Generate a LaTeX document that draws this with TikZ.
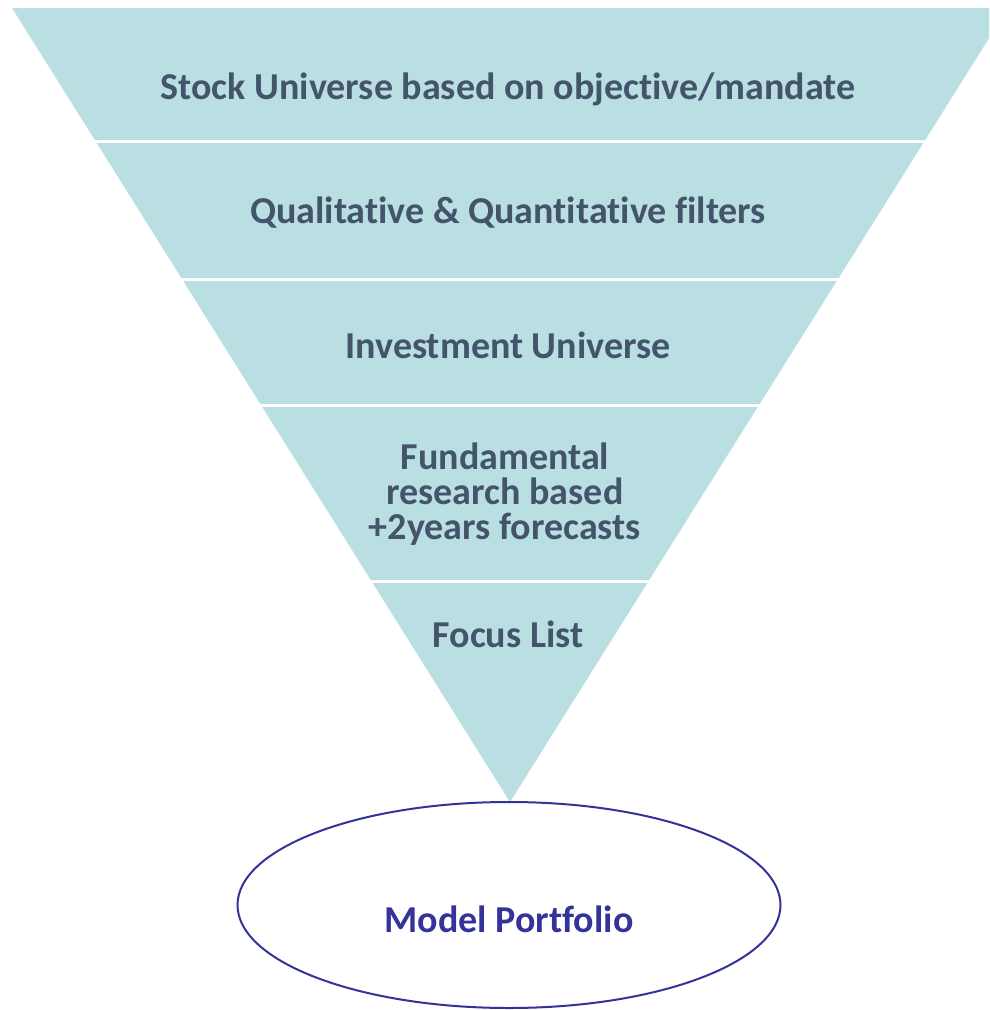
\documentclass[tikz,border=0pt]{standalone}
\usepackage{fontspec}
\setmainfont{Carlito}[Ligatures=NoCommon]
\usetikzlibrary{shapes.geometric}
\definecolor{funnelfill}{HTML}{B9DFE3}
\definecolor{slate}{HTML}{44546A}
\definecolor{navy}{HTML}{333399}
\begin{document}
\begin{tikzpicture}[x=1pt, y=-1pt,
	stage/.style={text=slate, font=\bfseries\fontsize{38}{35}\selectfont, align=center, inner sep=0pt},
	gap/.style={white, line width=3pt}]
	\useasboundingbox (0,0) rectangle (989,1010);
	\clip (0,0) rectangle (989,1010);
	\fill[funnelfill] (12,8) -- (1008,8) -- (510,802) -- cycle;
	\foreach \y in {141.5, 279.5, 405, 581.5}
		\draw[gap] (0,\y) -- (989,\y);
	\node[stage] (universe) at (508,89) {Stock Universe based on objective/mandate};
	\node[stage] (filters) at (508,213) {Qualitative \& Quantitative filters};
	\node[stage] (invest) at (508,345) {Investment Universe};
	\node[stage] (research) at (505,494) {Fundamental\\research based\\+2years forecasts};
	\node[stage] (focus) at (508,634) {Focus List};
	\node[draw=navy, line width=2pt, ellipse, minimum width=543, minimum height=206, inner sep=0pt] (portfolio) at (509,905) {};
	\node[stage, text=navy] (model) at (509,919) {Model Portfolio};
\end{tikzpicture}
\end{document}
